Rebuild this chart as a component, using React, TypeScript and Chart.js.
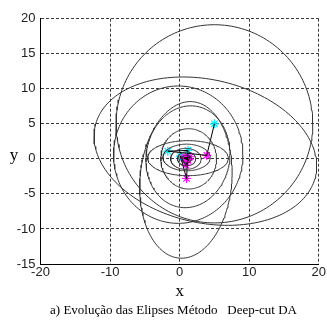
import React, { useEffect, useRef } from "react";
import { Chart, registerables } from "chart.js";

Chart.register(...registerables);

// Axis ticks
const xMin = -20;
const xMax = 20;
const xStep = 10;
const yMin = -15;
const yMax = 20;
const yStep = 5;

// Ellipses (center, semi-axes, rotation in degrees)
const ellipseCx = [5.0, 3.7, -0.2, 0.9, 1.2, 1.2, 1.3, 1.0, 0.9, 1.0, 1.0];
const ellipseCy = [5.0, 1.1, 0.6, -3.0, 0.3, 0.1, 0.0, 0.2, 0.0, 0.0, 0.0];
const ellipseA = [14.14, 16.24, 9.3, 6.6, 6.0, 5.8, 4.0, 3.4, 2.2, 1.3, 0.7];
const ellipseB = [14.14, 10.22, 9.8, 11.2, 7.3, 2.5, 4.3, 1.9, 1.5, 1.0, 0.55];
const ellipseAngle = [0, -12.6, 0, -5, -10, 0, 0, 0, 0, 0, 0];

// Sequence of ellipse centres (path), with marker colour kind
const pathX = [5.0, 3.9, -1.7, 1.2, 1.0, 0.1, 0.9, 1.5, 0.6, 1.2, 0.8, 1.1, 0.9, 1.0];
const pathY = [5.0, 0.5, 1.1, 1.2, -2.8, 0.4, -0.9, 0.3, 0.1, -0.2, 0.2, 0.0, -0.1, 0.05];
const pathKind = ["c", "m", "c", "c", "m", "c", "m", "m", "m", "m", "m", "m", "m", "m"];

const xTitle = "x";
const yTitle = "y";
const caption = "a) Evolução das Elipses Método   Deep-cut DA";

const SEGMENTS = 180;

function ellipsePoints(i: number) {
  const cx = ellipseCx[i];
  const cy = ellipseCy[i];
  const a = ellipseA[i];
  const b = ellipseB[i];
  const th = (ellipseAngle[i] * Math.PI) / 180;
  const pts: { x: number; y: number }[] = [];
  for (let k = 0; k <= SEGMENTS; k++) {
    const t = (2 * Math.PI * k) / SEGMENTS;
    const ex = a * Math.cos(t);
    const ey = b * Math.sin(t);
    pts.push({
      x: cx + ex * Math.cos(th) - ey * Math.sin(th),
      y: cy + ex * Math.sin(th) + ey * Math.cos(th),
    });
  }
  return pts;
}

const yTitlePlugin = {
  id: "yTitleUpright",
  afterDraw(chart: any) {
    const ctx = chart.ctx;
    const yScale = chart.scales.y;
    ctx.save();
    ctx.font = '17px "Liberation Serif"';
    ctx.fillStyle = "#000";
    ctx.textAlign = "center";
    ctx.textBaseline = "alphabetic";
    ctx.fillText(yTitle, 14, yScale.getPixelForValue(0) + 1.5);
    ctx.restore();
  },
};

export default function App() {
  const ref = useRef<HTMLCanvasElement | null>(null);

  useEffect(() => {
    if (!ref.current) return;
    const ellipseSets = ellipseCx.map((_, i) => ({
      data: ellipsePoints(i),
      showLine: true,
      borderColor: "#333333",
      borderWidth: 1,
      pointRadius: 0,
      tension: 0,
      fill: false,
    }));
    const pathSet = {
      data: pathX.map((x, i) => ({ x, y: pathY[i] })),
      showLine: true,
      borderColor: "#000000",
      borderWidth: 1,
      pointRadius: 0,
      tension: 0,
      fill: false,
    };
    const pick = (kind: string) =>
      pathX
        .map((x, i) => ({ x, y: pathY[i], k: pathKind[i] }))
        .filter((p) => p.k === kind)
        .map((p) => ({ x: p.x, y: p.y }));
    const cyanSet = {
      data: pick("c"),
      showLine: false,
      pointStyle: "star",
      pointRadius: 4.5,
      borderColor: "#00eaff",
      backgroundColor: "#00eaff",
      borderWidth: 1.2,
    };
    const magentaSet = {
      data: pick("m"),
      showLine: false,
      pointStyle: "star",
      pointRadius: 4.5,
      borderColor: "#ff00ff",
      backgroundColor: "#ff00ff",
      borderWidth: 1.2,
    };

    const tickFont = { family: '"Liberation Sans", Arial, sans-serif', size: 13 };
    const chart = new Chart(ref.current, {
      type: "scatter",
      data: { datasets: [...ellipseSets, pathSet, magentaSet, cyanSet] as any },
      options: {
        responsive: false,
        animation: false,
        devicePixelRatio: 1,
        layout: { padding: { top: 18.7, right: 7.5, left: 0, bottom: 0 } },
        plugins: {
          legend: { display: false },
          tooltip: { enabled: false },
          title: { display: false },
        },
        scales: {
          x: {
            type: "linear",
            min: xMin,
            max: xMax,
            afterFit: (s: any) => {
              s.height = 56;
            },
            ticks: { stepSize: xStep, font: tickFont, color: "#222", padding: 1, maxRotation: 0 },
            grid: { color: "#3a3a3a", lineWidth: 1, drawTicks: false },
            border: { display: true, color: "#000", width: 1, dash: [3, 2] },
            title: {
              display: true,
              text: xTitle,
              color: "#000",
              font: { family: '"Liberation Serif", serif', size: 17 },
              padding: { top: 0, bottom: 18.6 },
            },
          },
          y: {
            type: "linear",
            min: yMin,
            max: yMax,
            afterFit: (s: any) => {
              s.width = 40.5;
            },
            ticks: { stepSize: yStep, font: tickFont, color: "#222", padding: 5 },
            grid: { color: "#3a3a3a", lineWidth: 1, drawTicks: false },
            border: { display: true, color: "#000", width: 1, dash: [3, 2] },
          },
        },
      } as any,
      plugins: [yTitlePlugin],
    });
    return () => chart.destroy();
  }, []);

  return (
    <div style={{ position: "fixed", left: 0, top: 0, width: 327, height: 320, background: "#fff" }}>
      <canvas ref={ref} width={327} height={320} style={{ width: 327, height: 320, display: "block" }} />
      <div
        style={{
          position: "absolute",
          left: 0,
          top: 301.5,
          width: 347,
          textAlign: "center",
          fontFamily: '"Liberation Serif", serif',
          fontSize: 13,
          lineHeight: "15px",
          whiteSpace: "pre",
          color: "#000",
        }}
      >
        {caption}
      </div>
    </div>
  );
}
